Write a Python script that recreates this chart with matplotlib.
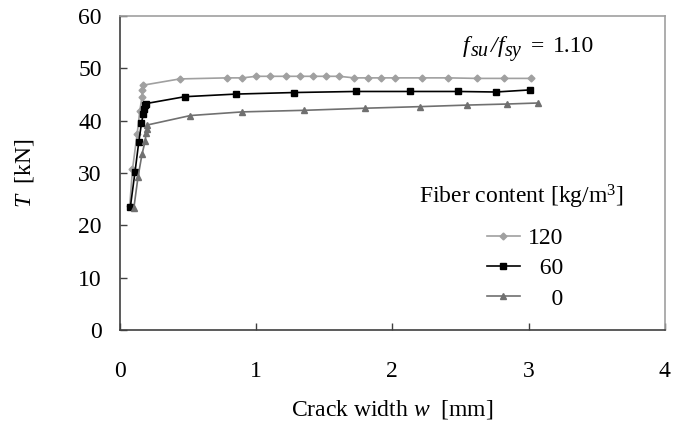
import matplotlib
matplotlib.use('Agg')
import matplotlib.pyplot as plt

plt.rcParams['font.family'] = 'Liberation Serif'
plt.rcParams['mathtext.fontset'] = 'custom'
plt.rcParams['mathtext.rm'] = 'Liberation Serif'
plt.rcParams['mathtext.it'] = 'Liberation Serif:italic'

# fiber content 120 kg/m3
w_120 = [0.073, 0.093, 0.127, 0.147, 0.163, 0.166, 0.170, 0.44, 0.786, 0.90, 1.00, 1.10,
         1.22, 1.32, 1.416, 1.514, 1.61, 1.72, 1.82, 1.92, 2.02, 2.22, 2.41, 2.62, 2.82, 3.02]
T_120 = [23.7, 30.7, 37.4, 41.9, 44.6, 45.9, 46.8, 48.0, 48.2, 48.2, 48.5, 48.5,
         48.5, 48.5, 48.5, 48.5, 48.5, 48.2, 48.2, 48.2, 48.2, 48.2, 48.2, 48.1, 48.1, 48.1]

# fiber content 60 kg/m3
w_60 = [0.078, 0.112, 0.139, 0.159, 0.171, 0.181, 0.186, 0.195, 0.476, 0.85, 1.28,
        1.73, 2.13, 2.48, 2.76, 3.01]
T_60 = [23.6, 30.3, 35.9, 39.5, 41.2, 42.2, 43.0, 43.3, 44.6, 45.1, 45.4,
        45.6, 45.6, 45.6, 45.5, 45.9]

# no fibers
w_0 = [0.103, 0.134, 0.163, 0.186, 0.193, 0.200, 0.203, 0.518, 0.90, 1.355, 1.80,
       2.20, 2.55, 2.84, 3.07]
T_0 = [23.3, 29.3, 33.6, 36.1, 37.6, 38.5, 39.2, 41.0, 41.7, 42.0, 42.4,
       42.7, 43.0, 43.2, 43.4]

fs = 17

fig = plt.figure(figsize=(6.73, 4.25), dpi=100)
ax = fig.add_axes([0.178, 0.2235, 0.81, 0.7385])

ax.plot(w_120, T_120, color='#a0a0a0', marker='D', markersize=3.5, lw=1.2, label='120')
ax.plot(w_60, T_60, color='black', marker='s', markersize=4.5, lw=1.2, label='  60')
ax.plot(w_0, T_0, color='#707070', marker='^', markersize=5, lw=1.2, label='    0')

ax.set_xlim(0, 4)
ax.set_ylim(0, 60)
ax.set_xticks([0, 1, 2, 3, 4])
ax.set_yticks(range(0, 61, 10))
ax.tick_params(direction='in', length=5, width=1, labelsize=fs, color='#404040')
ax.tick_params(axis='x', pad=22)
ax.tick_params(axis='y', pad=13)

for side in ['left', 'bottom']:
    ax.spines[side].set_color('#404040')
    ax.spines[side].set_linewidth(1.2)
for side in ['top', 'right']:
    ax.spines[side].set_color('#a0a0a0')
    ax.spines[side].set_linewidth(1.2)

ax.set_xlabel(r'Crack width $w$  [mm]', fontsize=fs, labelpad=12)
ax.set_ylabel(r'$T$  [kN]', fontsize=fs, labelpad=30)

# f_su/f_sy annotation, laid out piece by piece so the subscripts stay large
W, H = fig.get_size_inches() * fig.dpi
renderer = fig.canvas.get_renderer()
base = H - 52
pieces = [('f', 'italic', fs, 0, 1), ('su', 'italic', 14.5, -4, 1),
          ('/', 'italic', fs, 0, 1), ('f', 'italic', fs, 0, 1),
          ('sy', 'italic', 14.5, -4, 9), ('=', 'normal', fs, 0, 9),
          ('1.10', 'normal', fs, 0, 0)]
xpix = 463
for s, style, size, dy, gap in pieces:
    t = fig.text(xpix / W, (base + dy) / H, s, fontsize=size, style=style,
                 ha='left', va='baseline')
    xpix = t.get_window_extent(renderer).x1 + gap

ax.text(0.736, 0.424, r'Fiber content [kg/m$^3$]', transform=ax.transAxes,
        fontsize=fs, ha='center', va='center')

leg = ax.legend(loc='upper left', bbox_to_anchor=(0.673, 0.326), frameon=False,
                fontsize=fs, handlelength=1.4, handletextpad=0.35,
                labelspacing=0.37, borderaxespad=0, borderpad=0)

fig.savefig('out.png', dpi=100)
